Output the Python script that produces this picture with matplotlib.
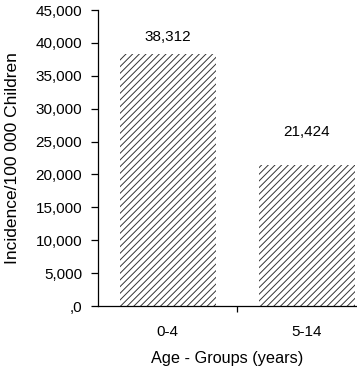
import matplotlib
import matplotlib.pyplot as plt
from matplotlib.ticker import FixedLocator

matplotlib.use("Agg")

groups = ["0-4", "5-14"]
incidence = [38312, 21424]
value_labels = ["38,312", "21,424"]
y_ticks = [0, 5000, 10000, 15000, 20000, 25000, 30000, 35000, 40000, 45000]
y_tick_labels = [",0", "5,000", "10,000", "15,000", "20,000", "25,000",
                 "30,000", "35,000", "40,000", "45,000"]

plt.rcParams["font.family"] = ["Liberation Sans", "DejaVu Sans"]
plt.rcParams["hatch.linewidth"] = 0.7

fig = plt.figure(figsize=(3.57, 3.68), dpi=100)
ax = fig.add_axes([98 / 357, 1 - 306 / 368, 1 - 98 / 357, (306 - 10) / 368])

x = list(range(len(groups)))
ax.bar(x, incidence, width=0.69, color="white", edgecolor="#333333",
       linewidth=0, hatch="/////")

# the second label sits higher above its bar in the original
label_offsets = [7, 19]
for xi, val, txt, off in zip(x, incidence, value_labels, label_offsets):
    ax.annotate(txt, (xi, val), xytext=(0, off), textcoords="offset points",
                ha="center", va="bottom", fontsize=11)

ax.set_xlim(-0.5, 1.36)
ax.set_ylim(0, 45000)
ax.set_yticks(y_ticks)
ax.set_yticklabels(y_tick_labels)
ax.set_xticks(x)
ax.set_xticklabels(groups)
ax.xaxis.set_minor_locator(FixedLocator([0.5]))
ax.tick_params(axis="x", which="major", length=0, pad=14, labelsize=11)
ax.tick_params(axis="x", which="minor", length=4, width=0.9)
ax.tick_params(axis="y", length=5, width=0.9, labelsize=11, pad=6.5)

for side in ["top", "right"]:
    ax.spines[side].set_visible(False)
for side in ["left", "bottom"]:
    ax.spines[side].set_linewidth(0.9)

ax.set_xlabel("Age - Groups (years)", fontsize=11.7, labelpad=8)
ax.set_ylabel("Incidence/100 000 Children", fontsize=12.5, labelpad=11)

fig.savefig("out.png", dpi=100)
plt.close(fig)
